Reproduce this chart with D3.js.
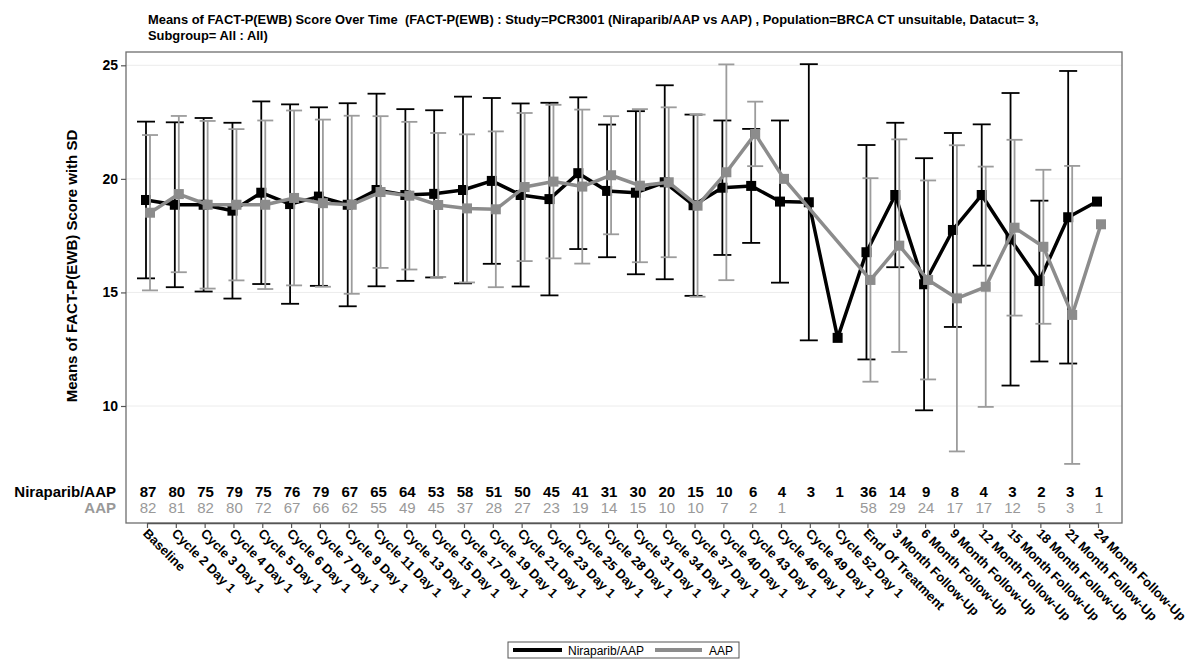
<!DOCTYPE html>
<html><head><meta charset="utf-8">
<script src="https://cdn.jsdelivr.net/npm/d3@7"></script>
<style>body{margin:0;background:#fff;} svg{display:block;font-family:Arial,"Liberation Sans",Helvetica,sans-serif;}</style>
</head><body><svg id="c" width="1192" height="664"></svg>
<script>
const categories = ["Baseline","Cycle 2 Day 1","Cycle 3 Day 1","Cycle 4 Day 1","Cycle 5 Day 1","Cycle 6 Day 1","Cycle 7 Day 1","Cycle 9 Day 1","Cycle 11 Day 1","Cycle 13 Day 1","Cycle 15 Day 1","Cycle 17 Day 1","Cycle 19 Day 1","Cycle 21 Day 1","Cycle 23 Day 1","Cycle 25 Day 1","Cycle 28 Day 1","Cycle 31 Day 1","Cycle 34 Day 1","Cycle 37 Day 1","Cycle 40 Day 1","Cycle 43 Day 1","Cycle 46 Day 1","Cycle 49 Day 1","Cycle 52 Day 1","End Of Treatment","3 Month Follow-Up","6 Month Follow-Up","9 Month Follow-Up","12 Month Follow-Up","15 Month Follow-Up","18 Month Follow-Up","21 Month Follow-Up","24 Month Follow-Up"];
const seriesNames = ["Niraparib/AAP","AAP"];
const nirMean = [19.07,18.86,18.86,18.6,19.39,18.89,19.22,18.86,19.51,19.29,19.34,19.51,19.91,19.29,19.11,20.25,19.47,19.39,19.85,18.84,19.61,19.69,19.0,18.97,13.0,16.77,19.29,15.36,17.75,19.29,17.34,15.5,18.31,19.0];
const nirSD = [3.45,3.63,3.82,3.87,4.02,4.39,3.93,4.47,4.24,3.78,3.68,4.11,3.65,4.03,4.24,3.34,2.92,3.59,4.27,3.99,2.96,2.51,3.57,6.08,null,4.72,3.18,5.55,4.27,3.11,6.44,3.54,6.44,null];
const aapMean = [18.51,19.33,18.86,18.86,18.86,19.16,18.93,18.86,19.42,19.26,18.85,18.7,18.66,19.64,19.88,19.66,20.16,19.7,19.85,18.82,20.29,21.98,20.0,null,null,15.55,17.06,15.55,14.74,15.25,17.85,17.01,14.01,18.0];
const aapSD = [3.42,3.44,3.69,3.33,3.71,3.85,3.68,3.92,3.34,3.25,3.17,3.26,3.43,3.26,3.38,3.39,2.6,3.37,3.3,4.01,4.75,1.42,null,null,null,4.48,4.68,4.38,6.74,5.29,3.87,3.39,6.56,null];
const nirN = [87,80,75,79,75,76,79,67,65,64,53,58,51,50,45,41,31,30,20,15,10,6,4,3,1,36,14,9,8,4,3,2,3,1];
const aapN = [82,81,82,80,72,67,66,62,55,49,45,37,28,27,23,19,14,15,10,10,7,2,1,null,null,58,29,24,17,17,12,5,3,1];
const yTicks = [10,15,20,25];
const titleLines = ["Means of FACT-P(EWB) Score Over Time  (FACT-P(EWB) : Study=PCR3001 (Niraparib/AAP vs AAP) , Population=BRCA CT unsuitable, Datacut= 3,","Subgroup= All : All)"];
const yLabel = "Means of FACT-P(EWB) Score with SD";

const svg = d3.select("#c");
const L = 126, R = 1122, T = 52, B = 523;
const x = d3.scalePoint().domain(categories).range([147, 1098]);
const y = d3.scaleLinear().domain([10, 25]).range([406, 65.3]);

const colNir = "#000000", colAap = "#8c8c8c", colAapBar = "#9c9c9c";

// title
svg.append("g").selectAll("text").data(titleLines).join("text")
  .attr("x", 148).attr("y", (d, i) => 24 + i * 16)
  .attr("font-size", 12.9).attr("font-weight", "bold").attr("fill", "#000")
  .style("white-space", "pre").text(d => d);

// gridlines
svg.append("g").selectAll("line").data(yTicks).join("line")
  .attr("x1", L).attr("x2", R).attr("y1", d => y(d)).attr("y2", d => y(d))
  .attr("stroke", "#ececec").attr("stroke-width", 1);

// frame
svg.append("rect").attr("x", L).attr("y", T).attr("width", R - L).attr("height", B - T)
  .attr("fill", "none").attr("stroke", "#6e6e6e").attr("stroke-width", 1.3);

// y axis
const ya = svg.append("g").attr("transform", `translate(${L},0)`)
  .call(d3.axisLeft(y).tickValues(yTicks).tickSize(5).tickPadding(3).tickFormat(d3.format("d")));
ya.select(".domain").remove();
ya.selectAll(".tick line").attr("stroke", "#555").attr("stroke-width", 1.2);
ya.selectAll(".tick text").attr("font-size", 14).attr("font-weight", "bold").attr("fill", "#000")
  .attr("font-family", "Arial, 'Liberation Sans', sans-serif");

svg.append("text").attr("transform", "translate(72,266) rotate(-90)")
  .attr("text-anchor", "middle").attr("dy", "0.35em")
  .attr("font-size", 15).attr("font-weight", "bold").text(yLabel);

// x axis
const xa = svg.append("g").attr("transform", `translate(0,${B})`)
  .call(d3.axisBottom(x).tickSize(5).tickSizeOuter(0));
xa.select(".domain").attr("stroke", "#555").attr("stroke-width", 1.3);
xa.selectAll(".tick line").attr("stroke", "#555").attr("stroke-width", 1.2);
xa.selectAll(".tick text")
  .attr("x", 0).attr("y", 0).attr("dy", "0.35em")
  .attr("transform", "translate(-2,8) rotate(45)")
  .attr("text-anchor", "start")
  .attr("font-size", 13).attr("font-weight", "bold").attr("fill", "#000")
  .attr("font-family", "Arial, 'Liberation Sans', sans-serif");

// series
function drawSeries(mean, sd, off, col, barCol, capW) {
  const pts = categories.map((c, i) => ({c, m: mean[i], s: sd[i]})).filter(d => d.m != null);
  const g = svg.append("g");
  const bars = pts.filter(d => d.s != null);
  g.selectAll("line.v").data(bars).join("line")
    .attr("x1", d => x(d.c) + off).attr("x2", d => x(d.c) + off)
    .attr("y1", d => y(d.m - d.s)).attr("y2", d => y(d.m + d.s))
    .attr("stroke", barCol).attr("stroke-width", 1.8);
  g.selectAll("line.t").data(bars).join("line")
    .attr("x1", d => x(d.c) + off - capW / 2).attr("x2", d => x(d.c) + off + capW / 2)
    .attr("y1", d => y(d.m + d.s)).attr("y2", d => y(d.m + d.s))
    .attr("stroke", barCol).attr("stroke-width", 1.8);
  g.selectAll("line.b").data(bars).join("line")
    .attr("x1", d => x(d.c) + off - capW / 2).attr("x2", d => x(d.c) + off + capW / 2)
    .attr("y1", d => y(d.m - d.s)).attr("y2", d => y(d.m - d.s))
    .attr("stroke", barCol).attr("stroke-width", 1.8);
  return {g, pts, off, col};
}
function drawLine(s) {
  const line = d3.line().x(d => x(d.c) + s.off).y(d => y(d.m));
  s.g.append("path").attr("d", line(s.pts)).attr("fill", "none")
    .attr("stroke", s.col).attr("stroke-width", 3.5).attr("stroke-linejoin", "round");
  const sz = 10;
  s.g.selectAll("rect").data(s.pts).join("rect")
    .attr("x", d => x(d.c) + s.off - sz / 2).attr("y", d => y(d.m) - sz / 2)
    .attr("width", sz).attr("height", sz).attr("fill", s.col);
}
const sNir = drawSeries(nirMean, nirSD, -1, colNir, colNir, 18);
const sAap = drawSeries(aapMean, aapSD, 3, colAap, colAapBar, 16);
drawLine(sNir);
drawLine(sAap);

// counts table
const tbl = svg.append("g");
tbl.append("text").attr("x", 116).attr("y", 497).attr("text-anchor", "end")
  .attr("font-size", 15).attr("font-weight", "bold").attr("fill", "#000").text(seriesNames[0]);
tbl.append("text").attr("x", 116).attr("y", 513).attr("text-anchor", "end")
  .attr("font-size", 15).attr("font-weight", "bold").attr("fill", "#999").text(seriesNames[1]);
tbl.selectAll("text.n1").data(categories.map((c, i) => ({c, n: nirN[i]})).filter(d => d.n != null))
  .join("text").attr("x", d => x(d.c) + 1).attr("y", 497).attr("text-anchor", "middle")
  .attr("font-size", 15).attr("font-weight", "bold").attr("fill", "#000").text(d => d.n);
tbl.selectAll("text.n2").data(categories.map((c, i) => ({c, n: aapN[i]})).filter(d => d.n != null))
  .join("text").attr("x", d => x(d.c) + 1).attr("y", 513).attr("text-anchor", "middle")
  .attr("font-size", 15).attr("fill", "#999").text(d => d.n);

// legend
const lg = svg.append("g");
lg.append("rect").attr("x", 508).attr("y", 642).attr("width", 231).attr("height", 16)
  .attr("fill", "#fff").attr("stroke", "#555").attr("stroke-width", 1);
lg.append("line").attr("x1", 513).attr("x2", 562).attr("y1", 650).attr("y2", 650)
  .attr("stroke", colNir).attr("stroke-width", 4);
lg.append("text").attr("x", 568).attr("y", 654.5).attr("font-size", 12).text(seriesNames[0]);
lg.append("line").attr("x1", 655).attr("x2", 702).attr("y1", 650).attr("y2", 650)
  .attr("stroke", colAap).attr("stroke-width", 4);
lg.append("text").attr("x", 709).attr("y", 654.5).attr("font-size", 12).text(seriesNames[1]);
</script></body></html>
